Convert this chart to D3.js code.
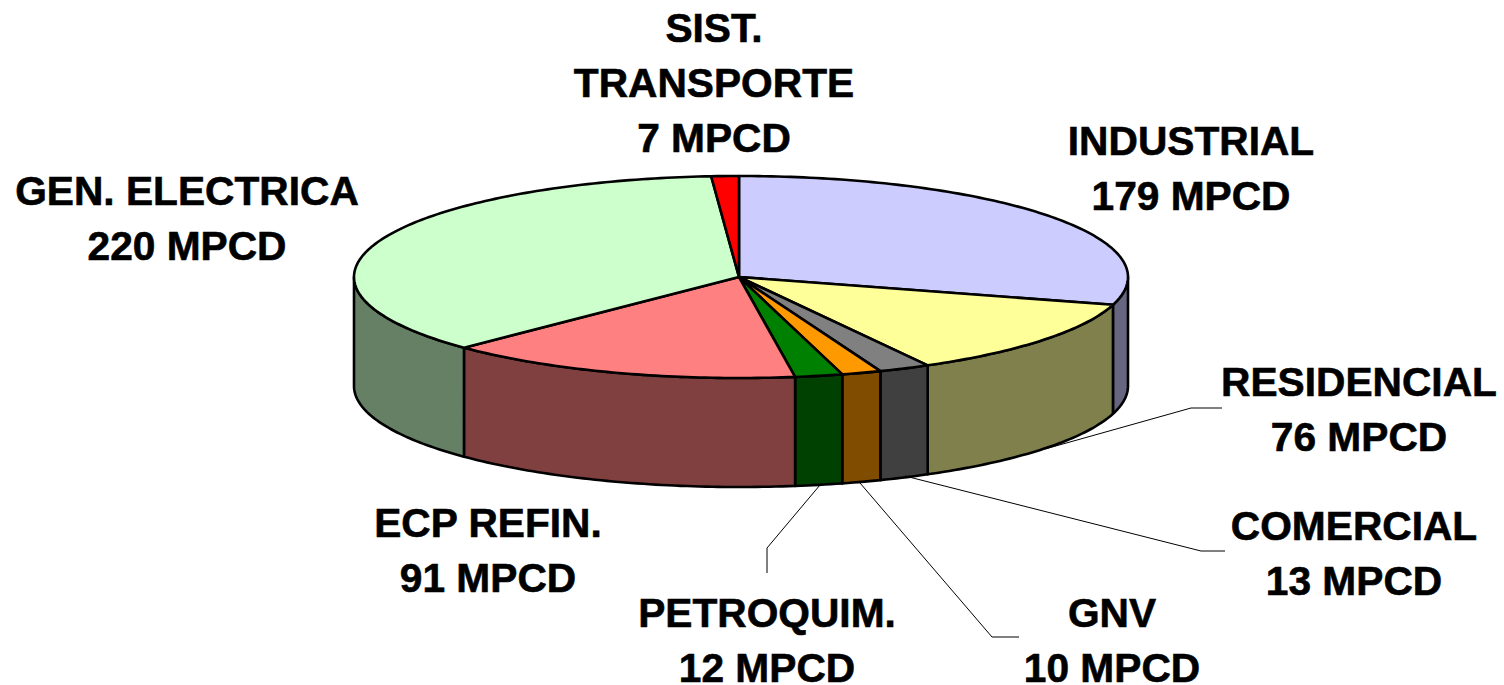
<!DOCTYPE html>
<html><head><meta charset="utf-8">
<script src="https://cdn.jsdelivr.net/npm/d3@7/dist/d3.min.js"></script>
<style>html,body{margin:0;padding:0;background:#fff}svg{display:block}
text{font-family:"Liberation Sans",Arial,sans-serif;font-weight:700;font-size:40.7px;fill:#000;text-anchor:middle;stroke:#000;stroke-width:.6px}</style>
</head><body><svg id="c" width="1504" height="685"></svg>
<script>
const categories=["INDUSTRIAL","RESIDENCIAL","COMERCIAL","GNV","PETROQUIM.","ECP REFIN.","GEN. ELECTRICA","SIST. TRANSPORTE"];
const values=[179,76,13,10,12,91,220,7];
const topColors=["#CCCCFF","#FFFF99","#808080","#FF9900","#008000","#FF8080","#CCFFCC","#FF0000"];
const sideColors=["#666680","#80804D","#404040","#804D00","#004000","#804040","#668066","#800000"];
const labelLines=[["INDUSTRIAL","179 MPCD"],["RESIDENCIAL","76 MPCD"],["COMERCIAL","13 MPCD"],["GNV","10 MPCD"],["PETROQUIM.","12 MPCD"],["ECP REFIN.","91 MPCD"],["GEN. ELECTRICA","220 MPCD"],["SIST.","TRANSPORTE","7 MPCD"]];
const labelAnchor=[[1191,155],[1359,396],[1354,540],[1112,627],[767,627],[488,537],[187,205],[714,42]];
const leaders=[null,[[1045,449],[1191,408],[1222,408]],[[905,476],[1201,551],[1225,551]],[[860,483],[992,637],[1019,637]],[[820,485],[767,548],[767,573]],null,null,null];

const svg=d3.select("#c");
const cy=277,ry=101,depth=109;
const sx=d3.scaleLinear().domain([-1,0,1]).range([354,739,1128]);
const sy=d3.scaleLinear().domain([-1,1]).range([cy-ry,cy+ry]);
const px=a=>sx(Math.sin(a)), py=a=>sy(-Math.cos(a));
const arcs=d3.pie().sort(null).value(d=>d)(values);
const line=d3.line();
const pts=(a0,a1,dy)=>{const n=Math.max(2,Math.ceil((a1-a0)*60));return d3.range(n+1).map(i=>{const a=a0+(a1-a0)*i/n;return [px(a),py(a)+dy];});};

const HALF=Math.PI/2, TH=3*Math.PI/2;
const g=svg.append("g").attr("stroke","#000").attr("stroke-width",2.6).attr("stroke-linejoin","round");
arcs.forEach((d,i)=>{
  const a0=Math.max(d.startAngle,HALF), a1=Math.min(d.endAngle,TH);
  if(a1>a0){
    const p=pts(a0,a1,0).concat(pts(a0,a1,depth).reverse());
    g.append("path").attr("d",line(p)+"Z").attr("fill",sideColors[i]);
  }
});
arcs.forEach((d,i)=>{
  const p=[[sx(0),sy(0)]].concat(pts(d.startAngle,d.endAngle,0));
  g.append("path").attr("d",line(p)+"Z").attr("fill",topColors[i]);
});
const lg=svg.append("g").attr("fill","none").attr("stroke","#000").attr("stroke-width",1);
leaders.forEach(l=>{if(l)lg.append("path").attr("d",line(l));});
labelLines.forEach((ls,i)=>{
  const t=svg.append("text").attr("x",labelAnchor[i][0]).attr("y",labelAnchor[i][1]);
  ls.forEach((s,j)=>t.append("tspan").attr("x",labelAnchor[i][0]).attr("y",labelAnchor[i][1]+j*55).text(s));
});
</script></body></html>
